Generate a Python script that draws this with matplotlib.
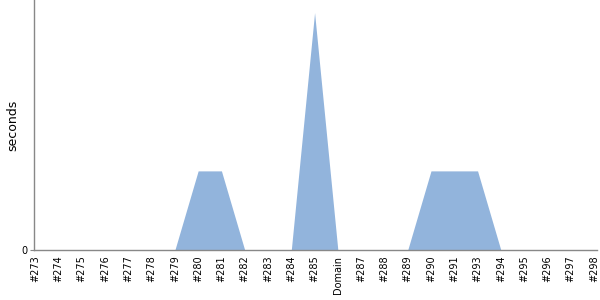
import numpy as np
import matplotlib.pyplot as plt

labels = ["#273", "#274", "#275", "#276", "#277", "#278", "#279", "#280",
          "#281", "#282", "#283", "#284", "#285", "Domain", "#287", "#288",
          "#289", "#290", "#291", "#293", "#294", "#295", "#296", "#297", "#298"]
seconds = [0, 0, 0, 0, 0, 0, 0, 1, 1, 0, 0, 0, 3, 0, 0, 0,
           0, 1, 1, 1, 0, 0, 0, 0, 0]

fig = plt.figure(figsize=(6, 3), dpi=100)
ax = fig.add_axes([34 / 600, 50 / 300, 563 / 600, 250 / 300])

x = np.arange(len(labels))
ax.fill_between(x, seconds, 0, color="#92b4dc", linewidth=0)

ax.set_xlim(-0.05, len(labels) - 1 + 0.13)
ax.set_ylim(0, 3.16)
ax.set_yticks([0])
ax.set_yticklabels(["0"], fontsize=7)
ax.set_xticks(x)
ax.set_xticklabels(labels, rotation=90, fontsize=7)
ax.tick_params(axis="x", length=0, pad=4)
ax.tick_params(axis="y", length=3, color="#888888", pad=2)
ax.set_ylabel("seconds", fontsize=9, labelpad=1)

for side in ["top", "right"]:
    ax.spines[side].set_visible(False)
for side in ["left", "bottom"]:
    ax.spines[side].set_color("#888888")
    ax.spines[side].set_linewidth(1)

fig.savefig("out.png", dpi=100)
